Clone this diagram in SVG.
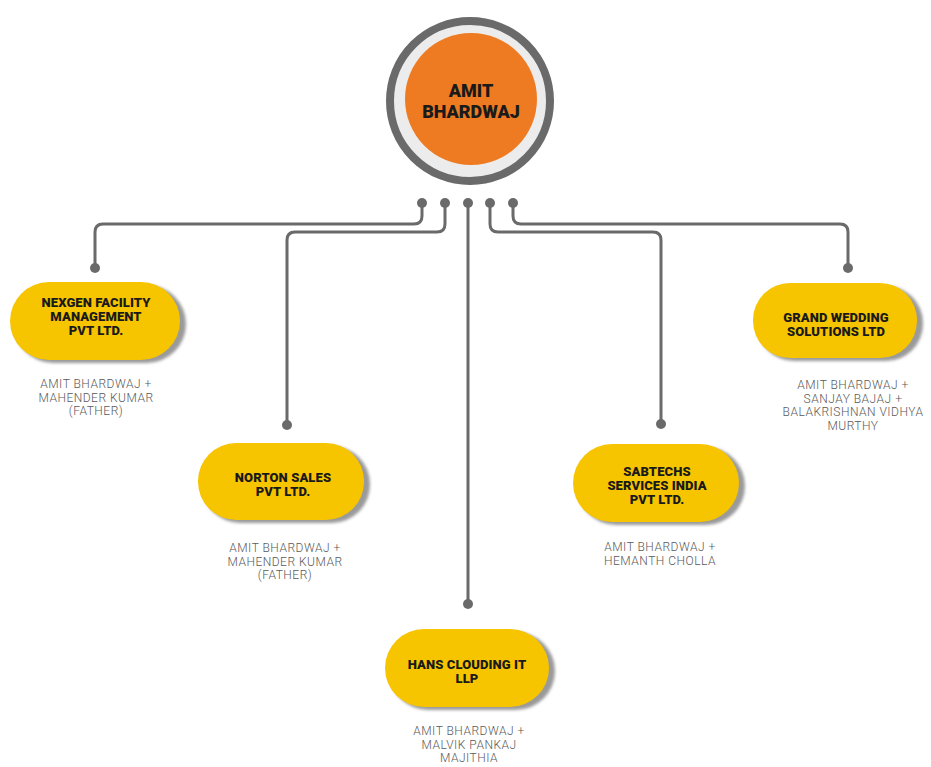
<svg xmlns="http://www.w3.org/2000/svg" width="931" height="767" viewBox="0 0 931 767">
<defs>
<filter id="sh" x="-10%" y="-20%" width="125%" height="150%"><feGaussianBlur stdDeviation="1.5"/></filter>
</defs>
<style>
.bg{fill:#ffffff}
.ln{fill:none;stroke:#6a6a6a;stroke-width:3;stroke-linecap:round;stroke-linejoin:round}
.dot{fill:#6a6a6a}
.pill{fill:#F7C400}
.pillsh{fill:#9a9a9a;filter:url(#sh)}
.t{font-family:Roboto,"Liberation Sans",sans-serif;font-weight:900;font-size:13px;fill:#1a1a1a;text-anchor:middle;letter-spacing:0.1px}
.s{font-family:Roboto,"Liberation Sans",sans-serif;font-weight:300;font-size:12px;fill:#5a5a5a;text-anchor:middle;letter-spacing:0.5px}
.ct{font-family:Roboto,"Liberation Sans",sans-serif;font-weight:900;font-size:18px;fill:#1a1a1a;text-anchor:middle;letter-spacing:0px}
</style>
<rect class="bg" width="931" height="767"/>
<g id="connectors">
<path class="ln" d="M422,203 V216 Q422,224 414,224 H103 Q95,224 95,232 V268"/>
<path class="ln" d="M445,203 V224 Q445,232 437,232 H295 Q287,232 287,240 V425"/>
<path class="ln" d="M468,203 V604"/>
<path class="ln" d="M490,203 V224 Q490,232 498,232 H653 Q661,232 661,240 V424"/>
<path class="ln" d="M513,203 V216 Q513,224 521,224 H840 Q848,224 848,232 V268"/>
<circle class="dot" cx="422" cy="203" r="5"/>
<circle class="dot" cx="445" cy="203" r="5"/>
<circle class="dot" cx="468" cy="203" r="5"/>
<circle class="dot" cx="490" cy="203" r="5"/>
<circle class="dot" cx="513" cy="203" r="5"/>
<circle class="dot" cx="95" cy="268" r="5"/>
<circle class="dot" cx="287" cy="425" r="5"/>
<circle class="dot" cx="468" cy="604" r="5"/>
<circle class="dot" cx="661" cy="424" r="5"/>
<circle class="dot" cx="848" cy="268" r="5"/>
</g>
<g id="amit">
<circle cx="470" cy="101" r="80" fill="#ececec" stroke="#6a6a6a" stroke-width="8"/>
<circle cx="471" cy="99" r="66" fill="#EE7B22"/>
<text class="ct" x="471" y="97">AMIT</text>
<text class="ct" x="471" y="118">BHARDWAJ</text>
</g>
<g id="nexgen">
<rect class="pillsh" x="14" y="285" width="172" height="78" rx="39"/>
<rect class="pill" x="10" y="282" width="170" height="78" rx="39"/>
<text class="t" x="96" y="307">NEXGEN FACILITY</text>
<text class="t" x="96" y="321">MANAGEMENT</text>
<text class="t" x="96" y="335">PVT LTD.</text>
<text class="s" x="96" y="388">AMIT BHARDWAJ +</text>
<text class="s" x="96" y="401.5">MAHENDER KUMAR</text>
<text class="s" x="96" y="415">(FATHER)</text>
</g>
<g id="norton">
<rect class="pillsh" x="202" y="446" width="168" height="77" rx="38"/>
<rect class="pill" x="198" y="443" width="166" height="77" rx="38"/>
<text class="t" x="283" y="482">NORTON SALES</text>
<text class="t" x="283" y="496">PVT LTD.</text>
<text class="s" x="285" y="552">AMIT BHARDWAJ +</text>
<text class="s" x="285" y="565.5">MAHENDER KUMAR</text>
<text class="s" x="285" y="579">(FATHER)</text>
</g>
<g id="sabtechs">
<rect class="pillsh" x="577" y="447" width="168" height="78" rx="39"/>
<rect class="pill" x="573" y="444" width="166" height="78" rx="39"/>
<text class="t" x="657" y="476">SABTECHS</text>
<text class="t" x="657" y="490">SERVICES INDIA</text>
<text class="t" x="657" y="504">PVT LTD.</text>
<text class="s" x="660" y="551">AMIT BHARDWAJ +</text>
<text class="s" x="660" y="564.5">HEMANTH CHOLLA</text>
</g>
<g id="grand">
<rect class="pillsh" x="757" y="286" width="166" height="75" rx="37"/>
<rect class="pill" x="753" y="283" width="164" height="75" rx="37"/>
<text class="t" x="836" y="322">GRAND WEDDING</text>
<text class="t" x="836" y="336">SOLUTIONS LTD</text>
<text class="s" x="853" y="389">AMIT BHARDWAJ +</text>
<text class="s" x="853" y="402.5">SANJAY BAJAJ +</text>
<text class="s" x="853" y="416">BALAKRISHNAN VIDHYA</text>
<text class="s" x="853" y="429.5">MURTHY</text>
</g>
<g id="hans">
<rect class="pillsh" x="389" y="632" width="166" height="78" rx="39"/>
<rect class="pill" x="385" y="629" width="164" height="78" rx="39"/>
<text class="t" x="467" y="669">HANS CLOUDING IT</text>
<text class="t" x="467" y="683">LLP</text>
<text class="s" x="469" y="735">AMIT BHARDWAJ +</text>
<text class="s" x="469" y="748.5">MALVIK PANKAJ</text>
<text class="s" x="469" y="762">MAJITHIA</text>
</g>
</svg>
